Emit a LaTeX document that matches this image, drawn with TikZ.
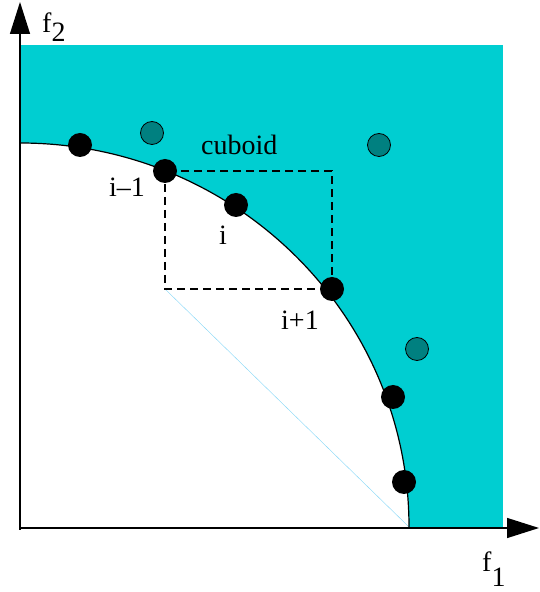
\documentclass[tikz,border=0pt]{standalone}
\usepackage{fontspec}
\setmainfont{Liberation Serif}
\usepackage{tikz}
\usetikzlibrary{arrows.meta}
\definecolor{turq}{RGB}{0,206,209}
\definecolor{tealdot}{RGB}{0,128,128}

\begin{document}
\begin{tikzpicture}[x=1pt,y=1pt, every node/.style={font=\fontsize{28}{30}\selectfont}, dot/.style={circle,fill=black,minimum size=24pt,inner sep=0pt}, other/.style={circle,draw,fill=tealdot,minimum size=23pt,inner sep=0pt,line width=0.8pt}, axis/.style={-{Triangle[length=32pt,width=20pt]},line width=1.3pt}, lbl/.style={anchor=base west,inner sep=0pt}]
\useasboundingbox (0,0) rectangle (539,592);
\coordinate (o) at (20,65);
\coordinate (e1) at (409,65);
\fill[turq] (o) rectangle (503,547);
\fill[white] (o) -- (e1) arc[start angle=0,end angle=90,x radius=389,y radius=384] -- cycle;
% points
\node[dot] (a) at (80,447) {};
\node[dot] (p1) at (165,421) {};
\node[dot] (p2) at (236,387) {};
\node[dot] (p3) at (332,303) {};
\node[dot] (b) at (393,195) {};
\node[dot] (c) at (404,110) {};
\node[other] (g1) at (152,459) {};
\node[other] (g2) at (379,447) {};
\node[other] (g3) at (417,243) {};
\draw[cyan!50,line width=0.4pt] (p1 |- p3) -- (e1);
\draw[line width=1.2pt] (e1) arc[start angle=0,end angle=90,x radius=389,y radius=384];
\draw[dashed,dash pattern=on 8pt off 5pt,line width=1.2pt] (p1.center) rectangle (p3.center);
\draw[axis] (20,62) -- (20,590);
\draw[axis] (19,64) -- (539,64);
% labels
\node[lbl] (cub) at (201,437) {cuboid};
\node[lbl] (l1) at (109,395) {i–1};
\node[lbl] (l2) at (219,347) {i};
\node[lbl] (l3) at (281,262) {i+1};
\node[lbl] (f2) at (42,559) {f\raisebox{-9pt}{2}};
\node[lbl] (f1) at (482,20) {f\raisebox{-15pt}{1}};
\end{tikzpicture}
\end{document}
